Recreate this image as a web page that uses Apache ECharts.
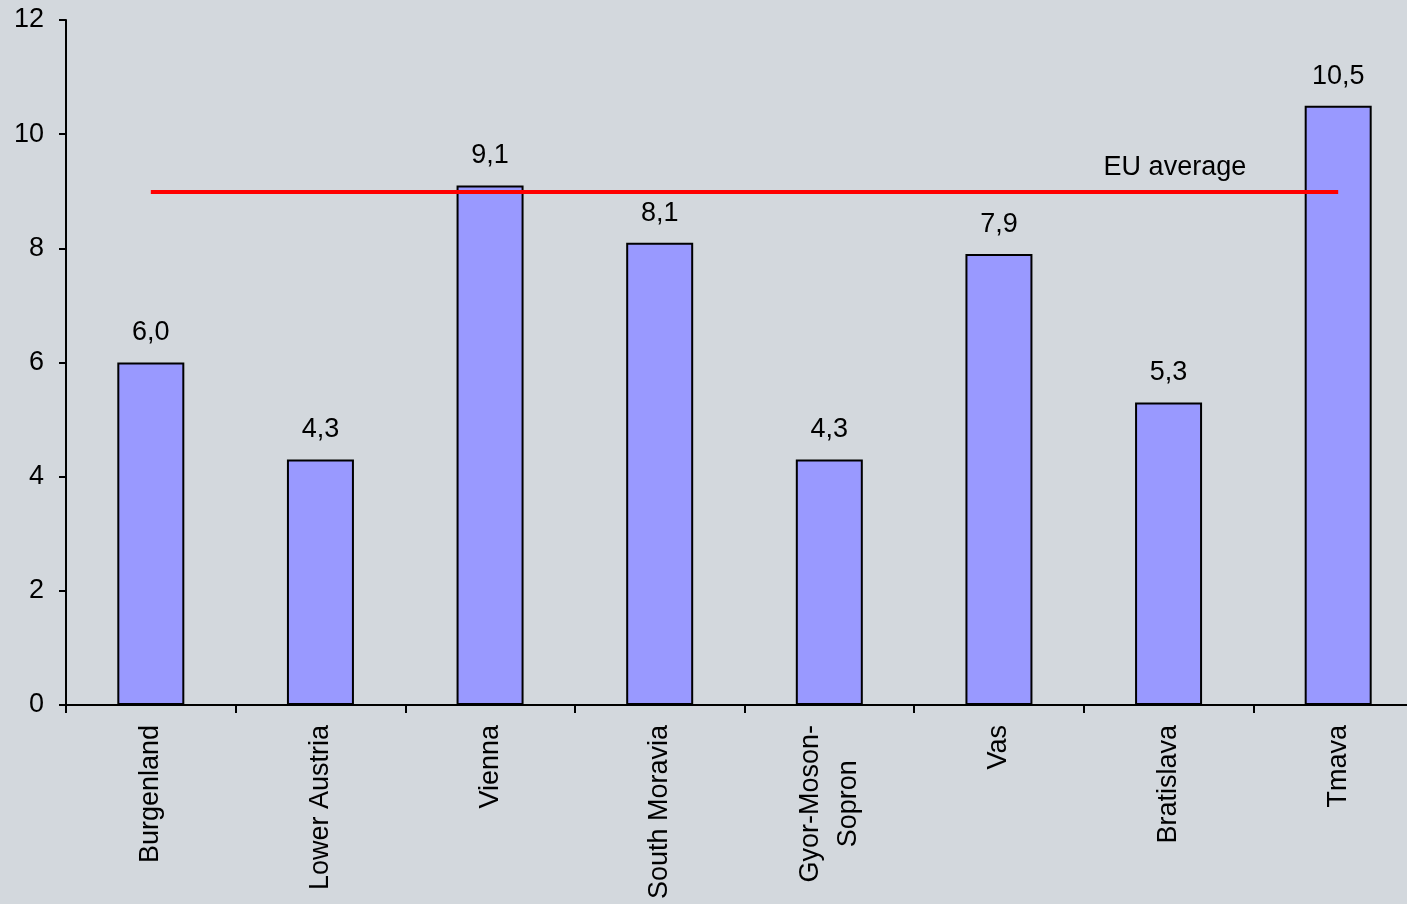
<!DOCTYPE html>
<html>
<head>
<meta charset="utf-8">
<script src="https://cdn.jsdelivr.net/npm/echarts@6/dist/echarts.min.js"></script>
<style>
  html, body { margin: 0; padding: 0; background: #d3d8dd; }
  #chart { width: 1407px; height: 904px; }
</style>
</head>
<body>
<div id="chart"></div>
<script>
// regions and values
const regions = ["Burgenland", "Lower Austria", "Vienna", "South Moravia", "Gyor-Moson-\nSopron", "Vas", "Bratislava", "Tmava"];
const values = [6.0, 4.3, 9.1, 8.1, 4.3, 7.9, 5.3, 10.5];
const euAverage = 9.0;
const euLabel = "EU average";
const yTicks = [0, 12, 2]; // min, max, step

const font = '"Liberation Sans", Arial, sans-serif';
const fmt = v => v.toFixed(1).replace(".", ",");

const chart = echarts.init(document.getElementById("chart"));

const option = {
  backgroundColor: "#d3d8dd",
  animation: false,
  textStyle: { fontFamily: font },
  grid: { left: 66, width: 1357, top: 20, bottom: 199, outerBoundsMode: "none" },
  xAxis: {
    type: "category",
    data: regions,
    axisLine: { lineStyle: { color: "#000", width: 2 } },
    axisTick: { show: true, length: 8, lineStyle: { color: "#000", width: 2 } },
    axisLabel: {
      rotate: 90,
      interval: 0,
      margin: 20,
      color: "#000",
      fontSize: 27,
      fontFamily: font,
      formatter: v => v.split("\n").map(s => "{c|" + s + "}").join("\n"),
      rich: { c: { align: "center", fontSize: 27, fontFamily: font, color: "#000", lineHeight: 38 } }
    }
  },
  yAxis: {
    type: "value",
    min: yTicks[0],
    max: yTicks[1],
    interval: yTicks[2],
    splitLine: { show: false },
    axisLine: { show: true, lineStyle: { color: "#000", width: 2 } },
    axisTick: { show: true, length: 7, lineStyle: { color: "#000", width: 2 } },
    axisLabel: { margin: 22, color: "#000", fontSize: 27, fontFamily: font }
  },
  series: [
    {
      type: "bar",
      data: values,
      barWidth: 67,
      itemStyle: { color: "#9999ff", borderColor: "#000", borderWidth: 2 },
      label: {
        show: true,
        position: "top",
        distance: 16,
        color: "#000",
        fontSize: 27,
        fontFamily: font,
        formatter: p => fmt(p.value)
      },
      markLine: {
        silent: true,
        symbol: "none",
        z: 5,
        lineStyle: { color: "#ff0000", width: 4, type: "solid" },
        label: {
          show: true,
          position: "insideEndTop",
          formatter: euLabel,
          color: "#000",
          fontSize: 27,
          fontFamily: font,
          distance: 10,
          padding: [0, 82, 0, 0]
        },
        data: [[{ coord: [0, euAverage] }, { coord: [regions.length - 1, euAverage] }]]
      }
    }
  ]
};

chart.setOption(option);
</script>
</body>
</html>
